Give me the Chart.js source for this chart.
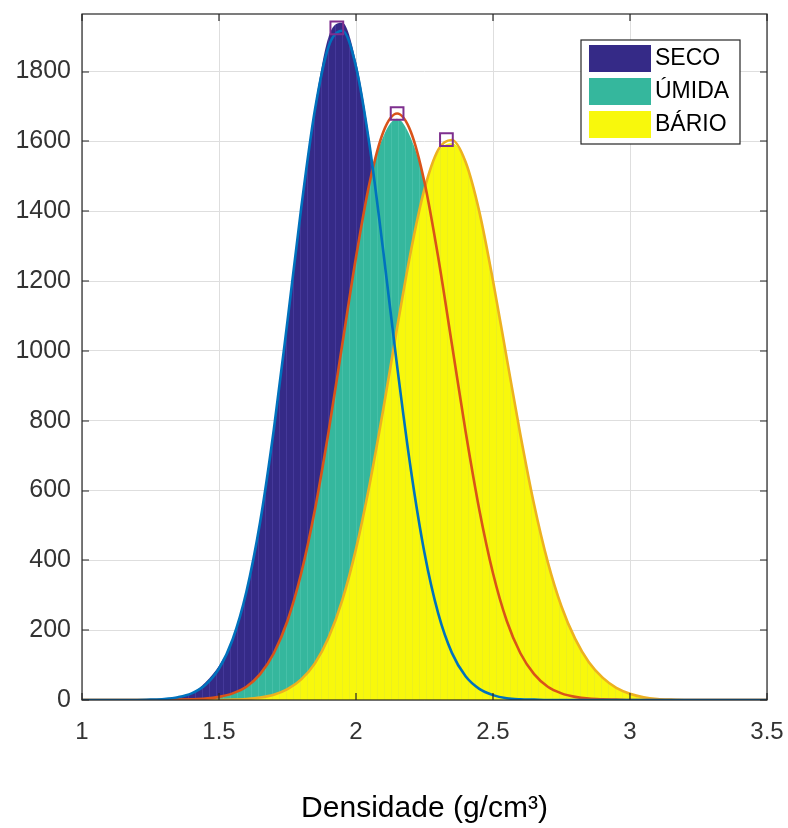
<!DOCTYPE html>
<html>
<head>
<meta charset="utf-8">
<script src="https://cdn.jsdelivr.net/npm/chart.js@4.4.1/dist/chart.umd.min.js"></script>
<style>
  html, body { margin: 0; padding: 0; background: #fff; }
  #wrap { width: 788px; height: 828px; }
</style>
</head>
<body>
<div id="wrap"><canvas id="densChart" width="788" height="828"></canvas></div>
<script>
// Eixo x: densidade (g/cm3), passo de 0.05
const densidade = [
  1.00, 1.05, 1.10, 1.15, 1.20, 1.25, 1.30, 1.35, 1.40, 1.45,
  1.50, 1.55, 1.60, 1.65, 1.70, 1.75, 1.80, 1.85, 1.90, 1.95,
  2.00, 2.05, 2.10, 2.15, 2.20, 2.25, 2.30, 2.35, 2.40, 2.45,
  2.50, 2.55, 2.60, 2.65, 2.70, 2.75, 2.80, 2.85, 2.90, 2.95,
  3.00, 3.05, 3.10, 3.15, 3.20, 3.25, 3.30, 3.35, 3.40, 3.45, 3.50
];

// Histogramas (contagens)
const secoHist = [
  0, 0, 0, 0, 0, 1, 3, 8, 19, 50,
  98, 174, 310, 509, 774, 1086, 1420, 1700, 1900, 1940,
  1830, 1600, 1282, 957, 661, 421, 248, 135, 68, 32,
  14, 5, 2, 1, 0, 0, 0, 0, 0, 0,
  0, 0, 0, 0, 0, 0, 0, 0, 0, 0, 0
];
const umidaHist = [
  0, 0, 0, 0, 0, 0, 0, 1, 2, 4,
  9, 19, 38, 74, 134, 227, 363, 545, 769, 1019,
  1268, 1483, 1615, 1665, 1610, 1483, 1268, 1019, 769, 545,
  363, 227, 134, 74, 38, 19, 9, 4, 2, 1,
  0, 0, 0, 0, 0, 0, 0, 0, 0, 0, 0
];
const barioHist = [
  0, 0, 0, 0, 0, 0, 0, 0, 0, 0,
  0, 1, 3, 7, 15, 31, 59, 105, 179, 286,
  433, 619, 835, 1066, 1285, 1464, 1570, 1595, 1541, 1399,
  1201, 980, 760, 560, 395, 268, 175, 108, 64, 35,
  18, 8, 3, 1, 0, 0, 0, 0, 0, 0, 0
];

// Curvas ajustadas
const secoFit = [
  0, 0, 0, 0, 0, 1, 3, 8, 19, 43,
  90, 174, 310, 509, 774, 1086, 1409, 1690, 1872, 1917,
  1814, 1586, 1282, 957, 661, 421, 248, 135, 68, 32,
  14, 5, 2, 1, 0, 0, 0, 0, 0, 0,
  0, 0, 0, 0, 0, 0, 0, 0, 0, 0, 0
];
const umidaFit = [
  0, 0, 0, 0, 0, 0, 0, 1, 2, 4,
  9, 19, 38, 74, 134, 227, 363, 545, 769, 1019,
  1268, 1483, 1628, 1680, 1628, 1483, 1268, 1019, 769, 545,
  363, 227, 134, 74, 38, 19, 9, 4, 2, 1,
  0, 0, 0, 0, 0, 0, 0, 0, 0, 0, 0
];
const barioFit = [
  0, 0, 0, 0, 0, 0, 0, 0, 0, 0,
  0, 1, 3, 7, 15, 31, 59, 105, 179, 286,
  433, 619, 835, 1066, 1285, 1464, 1576, 1604, 1541, 1399,
  1201, 980, 760, 560, 395, 268, 175, 108, 64, 35,
  18, 8, 3, 1, 0, 0, 0, 0, 0, 0, 0
];

// Picos marcados
const picoX = [1.93, 2.15, 2.33];
const picoY = [1925, 1680, 1605];

const series = ['SECO', 'ÚMIDA', 'BÁRIO'];
const xTicks = [1, 1.5, 2, 2.5, 3, 3.5];
const yTicks = [0, 200, 400, 600, 800, 1000, 1200, 1400, 1600, 1800];

const fillColors = ['#352a87', '#35b79d', '#f8f80c'];
const stripeColors = ['#45399a', '#46c0a8', '#ecf01e'];
const fitColors = ['#0072bd', '#d95319', '#edb120'];

Chart.defaults.font.family = '"Liberation Sans", Arial, sans-serif';

const toPts = arr => arr.map((v, i) => ({ x: densidade[i], y: v }));

// listras verticais finas, como as bordas das barras do histograma
function barPattern(i) {
  const c = document.createElement('canvas');
  c.width = 7; c.height = 4;
  const g = c.getContext('2d');
  g.fillStyle = fillColors[i];
  g.fillRect(0, 0, 7, 4);
  g.fillStyle = stripeColors[i];
  g.fillRect(6, 0, 1, 4);
  return g.createPattern(c, 'repeat');
}

function histSet(i, data, order) {
  return {
    label: series[i],
    data: toPts(data),
    borderWidth: 0,
    borderColor: 'rgba(0,0,0,0)',
    backgroundColor: barPattern(i),
    fill: 'origin',
    pointRadius: 0,
    cubicInterpolationMode: 'monotone',
    order: order
  };
}
function fitSet(i, data, order) {
  return {
    label: series[i] + ' ajuste',
    data: toPts(data),
    borderWidth: 2.6,
    borderColor: fitColors[i],
    fill: false,
    pointRadius: 0,
    cubicInterpolationMode: 'monotone',
    order: order
  };
}

// caixa do eixo, ticks para dentro e legenda
const matlabBox = {
  id: 'matlabBox',
  afterDraw(chart) {
    const { ctx, chartArea: a, scales: { x, y } } = chart;
    ctx.save();
    ctx.strokeStyle = '#262626';
    ctx.lineWidth = 1.2;
    ctx.strokeRect(a.left, a.top, a.right - a.left, a.bottom - a.top);
    const len = 7;
    ctx.beginPath();
    xTicks.forEach(v => {
      const px = Math.round(x.getPixelForValue(v));
      ctx.moveTo(px, a.bottom); ctx.lineTo(px, a.bottom - len);
      ctx.moveTo(px, a.top); ctx.lineTo(px, a.top + len);
    });
    yTicks.forEach(v => {
      const py = Math.round(y.getPixelForValue(v));
      ctx.moveTo(a.left, py); ctx.lineTo(a.left + len, py);
      ctx.moveTo(a.right, py); ctx.lineTo(a.right - len, py);
    });
    ctx.stroke();

    // legenda
    const lx = a.right - 186, ly = a.top + 26;
    ctx.fillStyle = '#fff';
    ctx.fillRect(lx, ly, 159, 104);
    ctx.lineWidth = 1.2;
    ctx.strokeRect(lx, ly, 159, 104);
    ctx.font = '23px "Liberation Sans", Arial, sans-serif';
    ctx.textBaseline = 'middle';
    ctx.textAlign = 'left';
    series.forEach((name, i) => {
      const ry = ly + 5 + i * 33;
      ctx.fillStyle = fillColors[i];
      ctx.fillRect(lx + 8, ry, 62, 27);
      ctx.fillStyle = '#000';
      ctx.fillText(name, lx + 74, ry + 14);
    });
    ctx.restore();
  }
};

new Chart(document.getElementById('densChart'), {
  type: 'line',
  data: {
    datasets: [
      {
        label: 'picos',
        data: picoX.map((v, i) => ({ x: v, y: picoY[i] })),
        showLine: false,
        pointStyle: 'rect',
        pointRadius: 9,
        pointBorderWidth: 2,
        pointBorderColor: '#7e2f8e',
        pointBackgroundColor: 'rgba(0,0,0,0)',
        order: 0
      },
      fitSet(0, secoFit, 1),
      fitSet(1, umidaFit, 2),
      fitSet(2, barioFit, 3),
      histSet(2, barioHist, 4),
      histSet(1, umidaHist, 5),
      histSet(0, secoHist, 6)
    ]
  },
  options: {
    responsive: false,
    animation: false,
    devicePixelRatio: 1,
    layout: { padding: { top: 14, right: 21, left: 0, bottom: 0 } },
    plugins: {
      legend: { display: false },
      tooltip: { enabled: false }
    },
    scales: {
      x: {
        type: 'linear',
        min: 1,
        max: 3.5,
        afterBuildTicks: s => { s.ticks = xTicks.map(v => ({ value: v })); },
        afterFit: s => { s.height = 128; s.paddingLeft = 0; s.paddingRight = 0; },
        ticks: {
          color: '#333',
          font: { size: 24 },
          padding: 18,
          maxRotation: 0,
          callback: v => String(v)
        },
        grid: { color: '#dedede', drawTicks: false },
        border: { display: false },
        title: {
          display: true,
          text: 'Densidade (g/cm³)',
          color: '#000',
          font: { size: 30 },
          padding: { top: 0, bottom: 1 }
        }
      },
      y: {
        min: 0,
        max: 1965,
        afterBuildTicks: s => { s.ticks = yTicks.map(v => ({ value: v })); },
        afterFit: s => { s.width = 82; s.paddingTop = 0; s.paddingBottom = 0; },
        ticks: {
          color: '#333',
          font: { size: 25 },
          padding: 11,
          callback: v => String(v)
        },
        grid: { color: '#dedede', drawTicks: false },
        border: { display: false }
      }
    }
  },
  plugins: [matlabBox]
});
</script>
</body>
</html>
